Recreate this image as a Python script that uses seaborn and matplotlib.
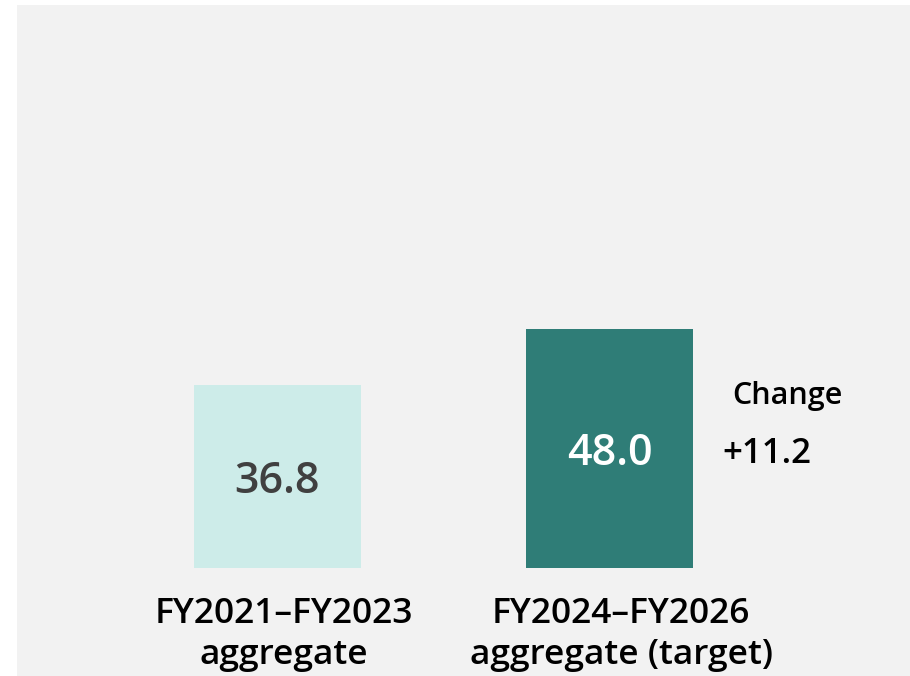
import matplotlib
matplotlib.use("Agg")
import matplotlib.pyplot as plt
import matplotlib.transforms as mtransforms
from matplotlib.patches import Rectangle
import seaborn as sns
import pandas as pd

# ---- data ----
categories = ["FY2021–FY2023\naggregate", "FY2024–FY2026\naggregate (target)"]
values = [36.8, 48.0]
bar_colors = ["#CDECE9", "#2F7D77"]
value_text_colors = ["#404040", "#FFFFFF"]
change_title = "Change"

sns.set_theme(style="white")
plt.rcParams['font.family'] = ['Open Sans', 'DejaVu Sans']

W, H = 910, 676
fig = plt.figure(figsize=(W / 100, H / 100), dpi=100)
fig.patch.set_facecolor("white")
fig.add_artist(Rectangle((17 / W, 0), 1 - 17 / W, (H - 5) / H,
                         transform=fig.transFigure, facecolor="#F2F2F2",
                         edgecolor="none", zorder=-10))

ax = fig.add_axes([17 / W, (H - 568) / H, 1 - 17 / W, (568 - 5) / H])
ax.patch.set_alpha(0)

df = pd.DataFrame({"cat": categories, "val": values})
sns.barplot(data=df, x="cat", y="val", hue="cat", palette=bar_colors,
            width=0.503, saturation=1, legend=False, linewidth=0,
            edgecolor="none", ax=ax)

px_per_unit_x = 332.0
px_per_unit_y = 4.976
ax.set_xlim(-(277.5 - 17) / px_per_unit_x, (910 - 277.5) / px_per_unit_x)
ax.set_ylim(0, (568 - 5) / px_per_unit_y)
for s in ax.spines.values():
    s.set_visible(False)
ax.set_xticks([])
ax.set_yticks([])
ax.set_xlabel("")
ax.set_ylabel("")

# value labels inside bars
for i, v in enumerate(values):
    ax.text(i, v / 2, f"{v:.1f}", ha="center", va="center_baseline",
            fontsize=31, fontweight="semibold", color=value_text_colors[i])

# category labels below bars
trans = mtransforms.blended_transform_factory(ax.transData, ax.transAxes)
label_offsets = [0.02, 0.035]
for i, lab in enumerate(categories):
    ax.annotate(lab, xy=(i + label_offsets[i], 0), xycoords=trans,
                xytext=(0, -21), textcoords="offset points",
                ha="center", va="top", fontsize=25.5, fontweight="semibold",
                color="#000000", linespacing=1.28)

# change annotation
change = values[1] - values[0]
ax.text((787.5 - 277.5) / px_per_unit_x, (568 - 404) / px_per_unit_y,
        change_title, ha="center", va="baseline", fontsize=22,
        fontweight="semibold", color="#000000")
ax.text((766.5 - 277.5) / px_per_unit_x, (568 - 463) / px_per_unit_y,
        f"+{change:.1f}", ha="center", va="baseline", fontsize=25,
        fontweight="semibold", color="#000000")

fig.savefig("out.png", dpi=100, facecolor=fig.get_facecolor())
